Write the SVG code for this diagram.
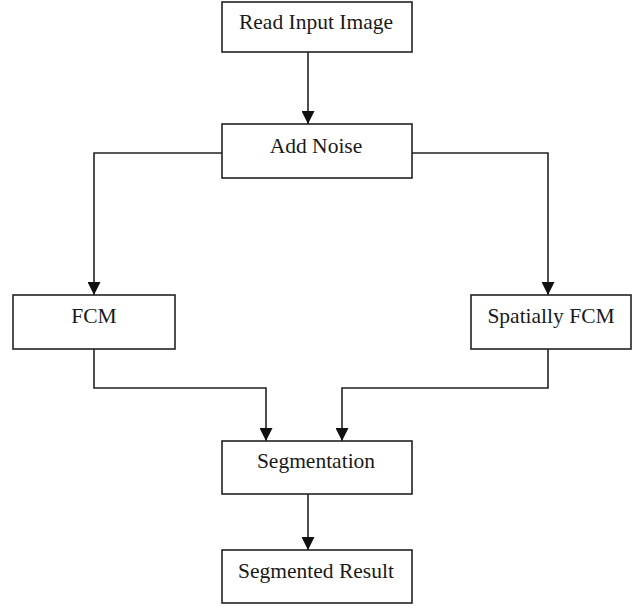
<svg xmlns="http://www.w3.org/2000/svg" width="632" height="609" viewBox="0 0 632 609">
<style>
.box{fill:#fff;stroke:#222;stroke-width:1.6}
.lbl{font-family:"Liberation Serif","Times New Roman",serif;font-size:21.5px;fill:#1a1a1a;text-anchor:middle}
.con{fill:none;stroke:#222;stroke-width:1.6}
</style>
<defs>
<marker id="arr" markerWidth="13" markerHeight="13" refX="13" refY="6.5" orient="auto" markerUnits="userSpaceOnUse" viewBox="0 0 13 13">
<path d="M0,0 L13,6.5 L0,13 Z" fill="#111"/>
</marker>
</defs>
<rect width="632" height="609" fill="#fff"/>
<g id="connectors">
<path class="con" d="M308,52 V124" marker-end="url(#arr)"/>
<path class="con" d="M222,153 H94 V295" marker-end="url(#arr)"/>
<path class="con" d="M412,153 H548 V295" marker-end="url(#arr)"/>
<path class="con" d="M94,349 V388 H266 V441" marker-end="url(#arr)"/>
<path class="con" d="M548,349 V388 H342 V441" marker-end="url(#arr)"/>
<path class="con" d="M308,494 V550" marker-end="url(#arr)"/>
</g>
<g id="read-input-image">
<rect class="box" x="222" y="2" width="190" height="50"/>
<text class="lbl" x="316" y="29">Read Input Image</text>
</g>
<g id="add-noise">
<rect class="box" x="222" y="124" width="190" height="54"/>
<text class="lbl" x="316" y="153">Add Noise</text>
</g>
<g id="fcm">
<rect class="box" x="13" y="295" width="162" height="54"/>
<text class="lbl" x="94" y="323">FCM</text>
</g>
<g id="spatially-fcm">
<rect class="box" x="471" y="295" width="160" height="54"/>
<text class="lbl" x="551" y="323">Spatially FCM</text>
</g>
<g id="segmentation">
<rect class="box" x="222" y="441" width="190" height="53"/>
<text class="lbl" x="316" y="468">Segmentation</text>
</g>
<g id="segmented-result">
<rect class="box" x="222" y="550" width="190" height="53"/>
<text class="lbl" x="316" y="578">Segmented Result</text>
</g>
</svg>
